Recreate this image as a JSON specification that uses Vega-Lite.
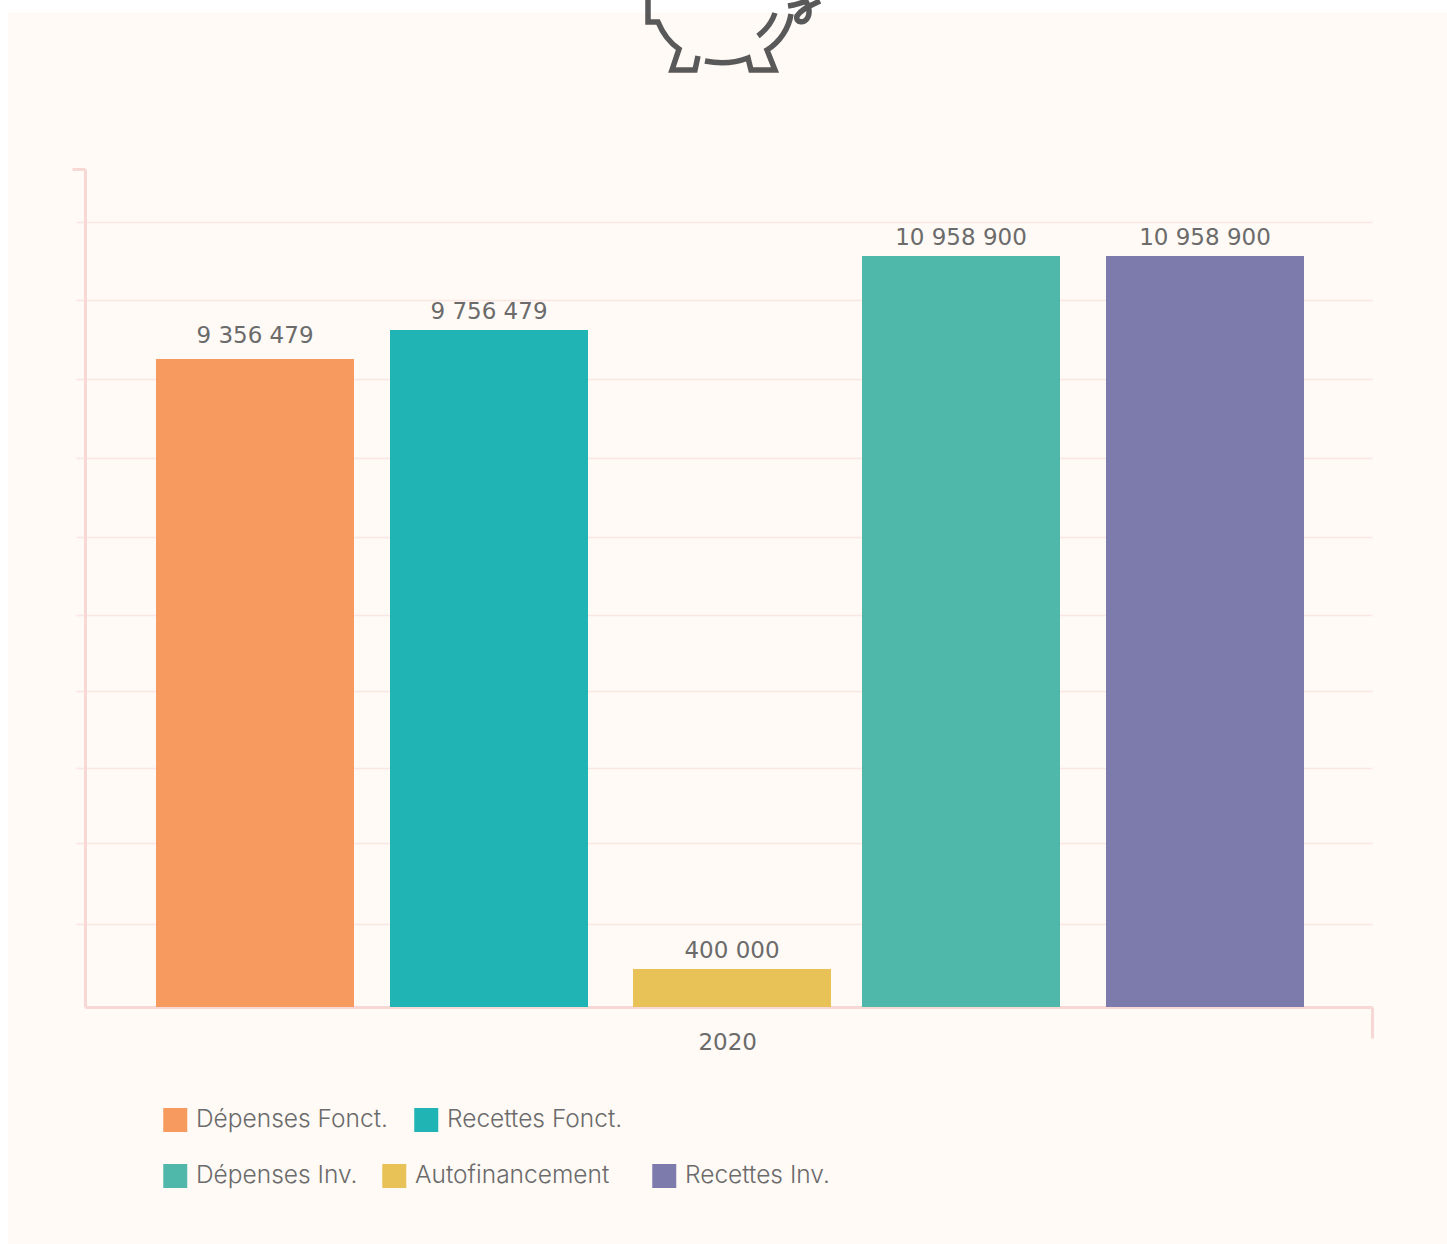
{
"$schema":"https://vega.github.io/schema/vega-lite/v6.json",
"autosize":{"type":"none"},
"padding":{"left":85,"top":169,"right":75,"bottom":237},
"width":1287,"height":838,
"background":"#fffaf6",
"config":{"view":{"stroke":null},"locale":{"number":{"decimal":",","thousands":" ","grouping":[3],"currency":["","€"]}},
"legend":{"title":null,"orient":"none","direction":"horizontal","padding":0,"symbolType":"square","symbolSize":576,"symbolStrokeWidth":0,"symbolOpacity":1,"labelFont":"Inter","labelFontSize":24.5,"labelFontWeight":300,"labelColor":"#6b6b6b","labelOffset":8.5,"clipHeight":24,"labelLimit":400}},
"data":{"values":[
{"annee":"2020","ordre":1,"serie":"Dépenses Fonct.","valeur":9356479},
{"annee":"2020","ordre":2,"serie":"Recettes Fonct.","valeur":9756479},
{"annee":"2020","ordre":3,"serie":"Autofinancement","valeur":400000},
{"annee":"2020","ordre":4,"serie":"Dépenses Inv.","valeur":10958900},
{"annee":"2020","ordre":5,"serie":"Recettes Inv.","valeur":10958900}
]},
"resolve":{"scale":{"color":"independent"}},
"encoding":{
"x":{"field":"ordre","type":"quantitative","scale":{"domain":[0,1,2,3,4,5,6],"range":[0,170,404,647,876,1120,1287],"nice":false,"zero":false},
"axis":{"title":null,"values":[6],"labelExpr":"'2020'","labelOffset":-644.5,"tickOffset":3.5,"labelAngle":0,"labelBound":false,"labelFlush":false,"labelOverlap":false,"tickSize":31,"tickWidth":3,"tickColor":"#f8d8d4","domainColor":"#f8d8d4","domainWidth":3,"labelPadding":-7,"labelFont":"DejaVu Sans","labelFontSize":23,"labelColor":"#6b6b6b","grid":false}},
"y":{"field":"valeur","type":"quantitative","stack":null,"scale":{"domain":[0,400000,9356479,9756479,10958900,12400000],"range":[838,800,190,161,87,0],"nice":false,"zero":false},
"axis":{"title":null,"labels":false,"values":[1054000,2243000,3344000,4489000,5591000,6736000,7910000,9063000,10236000,11514000,12400000],
"domainColor":"#f8d8d4","domainWidth":3,
"grid":true,"gridColor":"#fae6e2","gridWidth":1.7,
"gridOpacity":{"condition":{"test":"datum.value>=12400000","value":0},"value":1},
"tickColor":{"condition":{"test":"datum.value>=12400000","value":"#f8d8d4"},"value":"#fae6e2"},
"tickWidth":{"condition":{"test":"datum.value>=12400000","value":3},"value":1.7},
"tickSize":{"condition":{"test":"datum.value>=12400000","value":13},"value":9}}}
},
"layer":[
{"transform":[{"filter":"datum.serie==='Dépenses Fonct.'||datum.serie==='Recettes Fonct.'"}],
"mark":{"type":"bar","orient":"vertical","width":198},
"encoding":{"color":{"field":"serie","type":"nominal","scale":{"domain":["Dépenses Fonct.","Recettes Fonct."],"range":["#f69a60","#20b5b4"]},
"legend":{"legendX":78,"legendY":939,"columns":2,"columnPadding":26,"encoding":{"labels":{"dy":3}}}}}},
{"transform":[{"filter":"datum.serie==='Dépenses Inv.'||datum.serie==='Autofinancement'"}],
"mark":{"type":"bar","orient":"vertical","width":198},
"encoding":{"color":{"field":"serie","type":"nominal","scale":{"domain":["Dépenses Inv.","Autofinancement"],"range":["#50b8aa","#e8c257"]},
"legend":{"legendX":78,"legendY":995,"columns":2,"columnPadding":24,"encoding":{"labels":{"dy":3}}}}}},
{"transform":[{"filter":"datum.serie==='Recettes Inv.'"}],
"mark":{"type":"bar","orient":"vertical","width":198},
"encoding":{"color":{"field":"serie","type":"nominal","scale":{"domain":["Recettes Inv."],"range":["#7d7bab"]},
"legend":{"legendX":567,"legendY":995,"encoding":{"labels":{"dy":3}}}}}},
{"mark":{"type":"text","font":"DejaVu Sans","fontSize":23,"color":"#6b6b6b","baseline":"alphabetic","dy":{"expr":"datum.serie==='Dépenses Fonct.'?-16:-11"}},
"encoding":{"text":{"field":"valeur","type":"quantitative","format":",d"}}},
{"data":{"values":[{"zone":"haut"}]},"mark":{"type":"rect","color":"#ffffff"},"encoding":{"x":{"value":-85},"x2":{"value":1362},"y":{"value":-169},"y2":{"value":-156}}},
{"data":{"values":[{"zone":"gauche"}]},"mark":{"type":"rect","color":"#ffffff"},"encoding":{"x":{"value":-85},"x2":{"value":-77},"y":{"value":-169},"y2":{"value":1075}}},
{"data":{"values":[{"icone":"tirelire"}]},
"mark":{"type":"point","filled":false,"size":4,"stroke":"#595959","strokeWidth":5.5,"opacity":1,"clip":false,
"shape":"M648,-10 L648,22 L658,22 C663,34 670,43 679,49 L672,70 L695,70 L698,56 M705,61 C720,64 735,63 748,58 L751,70 L775,70 L767,50 C780,42 789,28 791,14 M758,36 C766,30 772,22 775,13 M788,6 C795,5 802,3 808,0 M820,1 C812,5 802,8 797,16 C795,23 805,24 808,17 C811,10 808,4 804,-2"},
"encoding":{"x":{"value":-85},"y":{"value":-169}}}
]
}
